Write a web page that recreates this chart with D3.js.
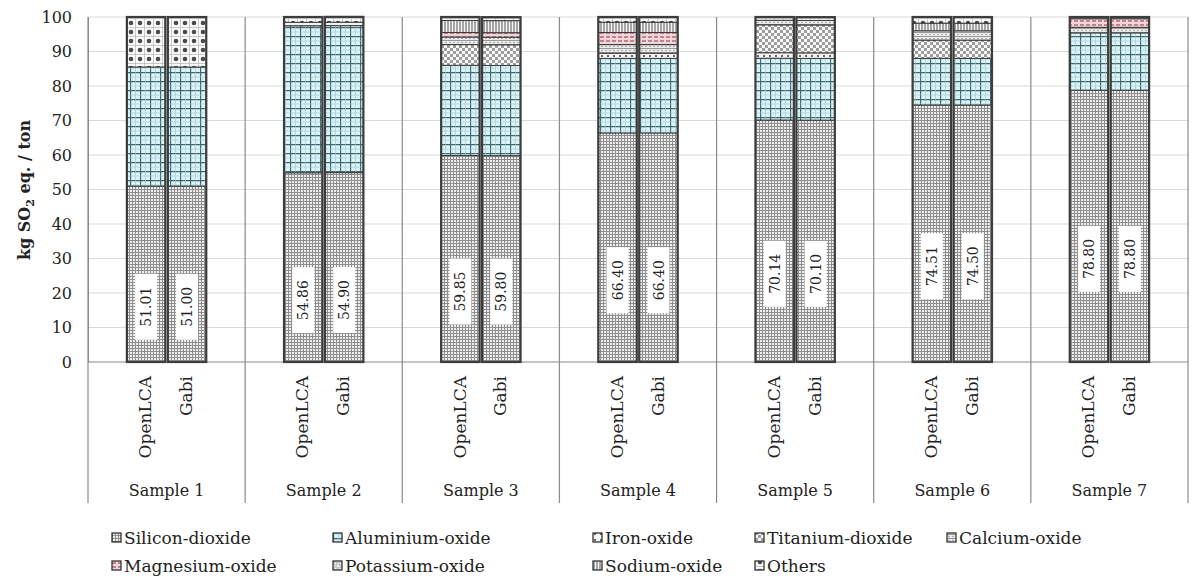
<!DOCTYPE html>
<html>
<head>
<meta charset="utf-8">
<script src="https://cdn.jsdelivr.net/npm/d3@7"></script>
<style>
  body { margin: 0; background: #fff; }
  svg text { font-family: "DejaVu Serif", "Liberation Serif", serif; fill: #222; }
</style>
</head>
<body>
<div id="chart"></div>
<script>
// data
const samples = ["Sample 1", "Sample 2", "Sample 3", "Sample 4", "Sample 5", "Sample 6", "Sample 7"];
const tools = ["OpenLCA", "Gabi"];
const components = ["Silicon-dioxide", "Aluminium-oxide", "Iron-oxide", "Titanium-dioxide", "Calcium-oxide",
                    "Magnesium-oxide", "Potassium-oxide", "Sodium-oxide", "Others"];

const siliconOpenLCA = [51.01, 54.86, 59.85, 66.40, 70.14, 74.51, 78.80];
const siliconGabi    = [51.00, 54.90, 59.80, 66.40, 70.10, 74.50, 78.80];
const aluminium = [34.5, 42.6, 26.15, 21.6, 17.9, 13.5, 16.6];
const iron      = [0, 1.0, 0, 1.5, 1.6, 0, 0];
const titanium  = [0, 0, 6.0, 0, 8.1, 5.3, 0];
const calcium   = [0, 0, 2.2, 2.5, 1.3, 2.7, 1.6];
const magnesium = [0, 0, 1.3, 3.5, 0, 0, 2.5];
const potassium = [0, 0, 0, 0, 0, 0, 0];
const sodium    = [0, 0, 3.5, 3.0, 0, 2.2, 0];
const others    = [14.49, 1.54, 1.0, 1.5, 0.96, 1.79, 0.5];
const yTicks = [0, 10, 20, 30, 40, 50, 60, 70, 80, 90, 100];

// build rows for the stack
const rows = [];
samples.forEach((s, i) => {
    tools.forEach(t => {
        rows.push({
            sample: s, tool: t,
            "Silicon-dioxide": t === "OpenLCA" ? siliconOpenLCA[i] : siliconGabi[i],
            "Aluminium-oxide": aluminium[i],
            "Iron-oxide": iron[i],
            "Titanium-dioxide": titanium[i],
            "Calcium-oxide": calcium[i],
            "Magnesium-oxide": magnesium[i],
            "Potassium-oxide": potassium[i],
            "Sodium-oxide": sodium[i],
            "Others": others[i]
        });
    });
});

const W = 1194, H = 581;
const plotLeft = 88, plotRight = 1188, plotTop = 17, plotBottom = 362;

const svg = d3.select("#chart").append("svg")
    .attr("width", W).attr("height", H);
svg.append("rect").attr("width", W).attr("height", H).attr("fill", "#fff");

// patterns
const defs = svg.append("defs");
function pattern(id, w, h, build) {
    const p = defs.append("pattern").attr("id", id)
        .attr("patternUnits", "userSpaceOnUse").attr("width", w).attr("height", h);
    build(p);
}
pattern("p0", 3, 3, p => {
    p.append("rect").attr("width", 3).attr("height", 3).attr("fill", "#eeeeee");
    p.append("path").attr("d", "M0 0.5H3M0.5 0V3").attr("stroke", "#8e8e8e").attr("stroke-width", 1);
});
pattern("p1", 10, 9, p => {
    p.append("rect").attr("width", 10).attr("height", 9).attr("fill", "#daf3f7");
    p.append("path").attr("d", "M0 0.5H10M0.5 0V9").attr("stroke", "#3e6770").attr("stroke-width", 1.3);
    p.append("path").attr("d", "M0 5H10M5.5 0V9").attr("stroke", "#9fc4cb").attr("stroke-width", 0.6);
});
pattern("p2", 6, 6, p => {
    p.append("rect").attr("width", 6).attr("height", 6).attr("fill", "#f4f4f4");
    p.append("path").attr("d", "M1 1L3 3M3 1L1 3").attr("stroke", "#555").attr("stroke-width", 0.9);
});
pattern("p3", 6, 6, p => {
    p.append("rect").attr("width", 6).attr("height", 6).attr("fill", "#fafafa");
    p.append("rect").attr("width", 3).attr("height", 3).attr("fill", "#9c9c9c");
    p.append("rect").attr("x", 3).attr("y", 3).attr("width", 3).attr("height", 3).attr("fill", "#9c9c9c");
});
pattern("p4", 4, 4, p => {
    p.append("rect").attr("width", 4).attr("height", 4).attr("fill", "#ececec");
    p.append("path").attr("d", "M0 0.5H4").attr("stroke", "#9a9a9a").attr("stroke-width", 1);
    p.append("circle").attr("cx", 2).attr("cy", 2.5).attr("r", 0.7).attr("fill", "#888");
});
pattern("p5", 6, 4, p => {
    p.append("rect").attr("width", 6).attr("height", 4).attr("fill", "#f0d6d9");
    p.append("path").attr("d", "M0 1H4").attr("stroke", "#a8485a").attr("stroke-width", 1.2);
});
pattern("p6", 5, 5, p => {
    p.append("rect").attr("width", 5).attr("height", 5).attr("fill", "#f7f7f7");
    p.append("rect").attr("x", 1).attr("y", 1).attr("width", 3).attr("height", 3)
        .attr("fill", "none").attr("stroke", "#888").attr("stroke-width", 0.7);
});
pattern("p7", 3, 4, p => {
    p.append("rect").attr("width", 3).attr("height", 4).attr("fill", "#f6f6f6");
    p.append("path").attr("d", "M1 0V4").attr("stroke", "#555").attr("stroke-width", 1);
});
pattern("p8", 9, 9, p => {
    p.append("rect").attr("width", 9).attr("height", 9).attr("fill", "#fbfbfb");
    p.append("path").attr("d", "M0 0.5H9M0.5 0V9").attr("stroke", "#bdbdbd").attr("stroke-width", 0.8);
    p.append("circle").attr("cx", 5).attr("cy", 5).attr("r", 2.3).attr("fill", "#4a4a4a");
});
const fillOf = k => `url(#p${components.indexOf(k)})`;

// scales
const x0 = d3.scaleBand().domain(samples).range([plotLeft, plotRight]).paddingInner(0).paddingOuter(0);
const x1 = d3.scaleBand().domain(tools).range([0, x0.bandwidth()])
    .paddingInner(0.061).paddingOuter(0.95);
const y = d3.scaleLinear().domain([0, 100]).range([plotBottom, plotTop]);

// gridlines
svg.append("g").selectAll("line").data(yTicks.filter(t => t > 0)).join("line")
    .attr("x1", plotLeft).attr("x2", plotRight)
    .attr("y1", d => y(d)).attr("y2", d => y(d))
    .attr("stroke", "#d9d9d9").attr("stroke-width", 1);

// y axis
const yAxis = svg.append("g").attr("transform", `translate(${plotLeft},0)`)
    .call(d3.axisLeft(y).tickValues(yTicks).tickSize(0).tickPadding(16));
yAxis.select(".domain").attr("stroke", "#8a8a8a");
yAxis.selectAll("text").style("font-family", "DejaVu Serif").style("font-size", "16px").attr("fill", "#333");

// group separators (through plot and category labels)
const seps = samples.map(s => x0(s)).concat([plotRight]);
svg.append("g").selectAll("line").data(seps).join("line")
    .attr("x1", d => d).attr("x2", d => d)
    .attr("y1", plotTop).attr("y2", 503)
    .attr("stroke", "#8a8a8a").attr("stroke-width", 1.2);

// x axis line
svg.append("line").attr("x1", plotLeft).attr("x2", plotRight).attr("y1", plotBottom).attr("y2", plotBottom)
    .attr("stroke", "#8a8a8a").attr("stroke-width", 1.2);

// stacked bars
const series = d3.stack().keys(components)(rows);
const bars = svg.append("g");
series.forEach(s => {
    bars.append("g").selectAll("rect")
        .data(s.filter(d => d[1] - d[0] > 0))
        .join("rect")
        .attr("x", d => x0(d.data.sample) + x1(d.data.tool))
        .attr("y", d => y(d[1]))
        .attr("width", x1.bandwidth())
        .attr("height", d => y(d[0]) - y(d[1]))
        .attr("fill", fillOf(s.key))
        .attr("stroke", "#3a3a3a").attr("stroke-width", 1);
});

// bar outlines
const totals = rows.map(r => ({ r, total: d3.sum(components, k => r[k]) }));
bars.append("g").selectAll("rect").data(totals).join("rect")
    .attr("x", d => x0(d.r.sample) + x1(d.r.tool))
    .attr("y", d => y(d.total))
    .attr("width", x1.bandwidth())
    .attr("height", d => y(0) - y(d.total))
    .attr("fill", "none").attr("stroke", "#3d3d3d").attr("stroke-width", 2.2);

// silicon-dioxide value labels
const labels = svg.append("g").selectAll("g").data(rows).join("g")
    .attr("transform", d => {
        const cx = x0(d.sample) + x1(d.tool) + x1.bandwidth() / 2;
        const cy = y(d["Silicon-dioxide"] / 2 - 9.5);
        return `translate(${cx},${cy})`;
    });
labels.append("rect").attr("x", -11).attr("y", -33).attr("width", 22).attr("height", 66)
    .attr("fill", "#fff");
labels.append("text")
    .attr("transform", "rotate(-90)")
    .attr("text-anchor", "middle").attr("dy", "0.36em")
    .style("font-size", "14px")
    .text(d => d["Silicon-dioxide"].toFixed(2));

// tool tick labels
svg.append("g").selectAll("text").data(rows).join("text")
    .attr("transform", d => `translate(${x0(d.sample) + x1(d.tool) + x1.bandwidth() / 2 - 1},376) rotate(-90)`)
    .attr("text-anchor", "end").attr("dy", "0.36em")
    .style("font-size", "17px")
    .text(d => d.tool);

// sample labels
svg.append("g").selectAll("text").data(samples).join("text")
    .attr("x", d => x0(d) + x0.bandwidth() / 2)
    .attr("y", 496)
    .attr("text-anchor", "middle")
    .style("font-size", "16px")
    .text(d => d);

// y title
const yTitle = svg.append("text")
    .attr("transform", "translate(30,190) rotate(-90)")
    .attr("text-anchor", "middle")
    .style("font-size", "16px").style("font-weight", "bold");
yTitle.append("tspan").text("kg SO");
yTitle.append("tspan").attr("dy", 4).style("font-size", "11px").text("2");
yTitle.append("tspan").attr("dy", -4).text("  eq. / ton");

// legend
const legendPos = [[112, 538], [333, 538], [593, 538], [755, 538], [947, 538],
                   [112, 566], [333, 566], [593, 566], [755, 566]];
const legend = svg.append("g").selectAll("g").data(components).join("g")
    .attr("transform", (d, i) => `translate(${legendPos[i][0]},${legendPos[i][1]})`);
legend.append("rect").attr("x", 0).attr("y", -5).attr("width", 9).attr("height", 9)
    .attr("fill", d => fillOf(d)).attr("stroke", "#333").attr("stroke-width", 1.3);
legend.append("text").attr("x", 12).attr("dy", "0.33em")
    .style("font-size", "17px")
    .text(d => d);
</script>
</body>
</html>
